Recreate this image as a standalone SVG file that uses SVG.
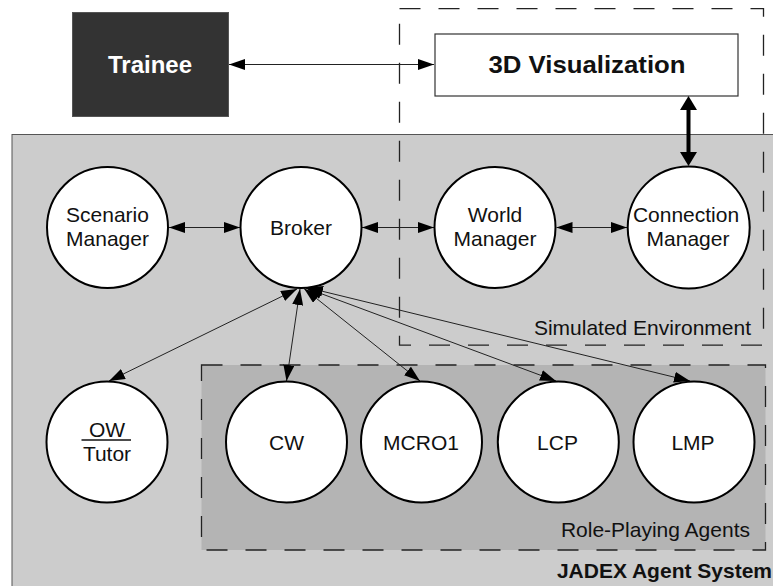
<svg xmlns="http://www.w3.org/2000/svg" width="773" height="586" viewBox="0 0 773 586">
<style>
  text { font-family: "Liberation Sans", Arial, sans-serif; fill: #111; }
  .lbl { font-size: 21px; text-anchor: middle; }
  .cap { font-size: 21px; text-anchor: end; }
  .node { fill: #fff; stroke: #000; stroke-width: 2; }
  .dash { fill: none; stroke: #222; stroke-width: 1.3; stroke-dasharray: 21 18; }
  .thin { fill: none; stroke: #222; stroke-width: 1; marker-start: url(#ah); marker-end: url(#ah); }
</style>
<defs>
  <marker id="ah" viewBox="0 0 16 11" markerWidth="16" markerHeight="11" refX="16" refY="5.5" orient="auto-start-reverse" markerUnits="userSpaceOnUse">
    <path d="M0,0 L16,5.5 L0,11 z" fill="#000"/>
  </marker>
  <marker id="ahb" viewBox="0 0 14 17" markerWidth="14" markerHeight="17" refX="1" refY="8.5" orient="auto-start-reverse" markerUnits="userSpaceOnUse">
    <path d="M0,0 L14,8.5 L0,17 z" fill="#000"/>
  </marker>
</defs>

<g id="jadex">
  <rect x="12" y="134.5" width="780" height="470" fill="#cccccc" stroke="#555" stroke-width="1"/>
  <text x="772" y="578" font-size="21" font-weight="bold" text-anchor="end">JADEX Agent System</text>
</g>

<g id="role-playing">
  <rect x="201.5" y="365" width="564" height="185" fill="#b4b4b4"/>
  <rect class="dash" x="201.5" y="365" width="564" height="185"/>
  <text class="cap" x="750" y="537">Role-Playing Agents</text>
</g>

<g id="simulated-environment">
  <rect class="dash" x="399.5" y="8.7" width="364" height="336.5"/>
  <text class="cap" x="751" y="335">Simulated Environment</text>
</g>

<g id="trainee">
  <rect x="72.5" y="12.5" width="156" height="104" fill="#333333" stroke="#555" stroke-width="1"/>
  <text x="150" y="73" font-size="24" font-weight="bold" text-anchor="middle" style="fill:#fff">Trainee</text>
</g>

<g id="visualization">
  <rect x="435" y="34" width="303" height="62" fill="#fff" stroke="#333" stroke-width="1.2"/>
  <text x="587" y="73" font-size="24" font-weight="bold" text-anchor="middle" textLength="197" lengthAdjust="spacingAndGlyphs">3D Visualization</text>
</g>

<g id="connectors">
  <line class="thin" x1="229" y1="64.5" x2="434" y2="64.5"/>
  <line x1="688.5" y1="109" x2="688.5" y2="153" stroke="#000" stroke-width="4" marker-start="url(#ahb)" marker-end="url(#ahb)"/>
  <line class="thin" x1="169" y1="227.5" x2="240" y2="227.5"/>
  <line class="thin" x1="362" y1="227.5" x2="434" y2="227.5"/>
  <line class="thin" x1="556.5" y1="227.5" x2="627" y2="227.5"/>
  <line class="thin" x1="297" y1="289" x2="109" y2="381"/>
  <line class="thin" x1="300" y1="289" x2="286.5" y2="381"/>
  <line class="thin" x1="304" y1="288.5" x2="420" y2="381"/>
  <line class="thin" x1="306" y1="288" x2="556" y2="381"/>
  <line class="thin" x1="307" y1="287.5" x2="690" y2="381"/>
</g>

<g id="scenario-manager">
  <circle class="node" cx="107.5" cy="227.5" r="60.5"/>
  <text class="lbl" x="107.5" y="222">Scenario</text>
  <text class="lbl" x="107.5" y="245.5">Manager</text>
</g>
<g id="broker">
  <circle class="node" cx="301" cy="227.5" r="60.5"/>
  <text class="lbl" x="301" y="235">Broker</text>
</g>
<g id="world-manager">
  <circle class="node" cx="495" cy="227.5" r="60.5"/>
  <text class="lbl" x="495" y="222">World</text>
  <text class="lbl" x="495" y="245.5">Manager</text>
</g>
<g id="connection-manager">
  <circle class="node" cx="688.7" cy="227.5" r="61"/>
  <text class="lbl" x="686" y="222">Connection</text>
  <text class="lbl" x="688" y="245.5">Manager</text>
</g>

<g id="ow-tutor">
  <circle class="node" cx="107" cy="442" r="60.5"/>
  <text class="lbl" x="107" y="436.5">OW</text>
  <line x1="81.5" y1="440" x2="131" y2="440" stroke="#111" stroke-width="1.3"/>
  <text class="lbl" x="107" y="461">Tutor</text>
</g>
<g id="cw">
  <circle class="node" cx="286.5" cy="442" r="60.5"/>
  <text class="lbl" x="286.5" y="449.5">CW</text>
</g>
<g id="mcro1">
  <circle class="node" cx="421.5" cy="442" r="60.5"/>
  <text class="lbl" x="421" y="449.5">MCRO1</text>
</g>
<g id="lcp">
  <circle class="node" cx="558.3" cy="442" r="60.5"/>
  <text class="lbl" x="557.5" y="449.5">LCP</text>
</g>
<g id="lmp">
  <circle class="node" cx="694" cy="442" r="60.5"/>
  <text class="lbl" x="693" y="449.5">LMP</text>
</g>
</svg>
